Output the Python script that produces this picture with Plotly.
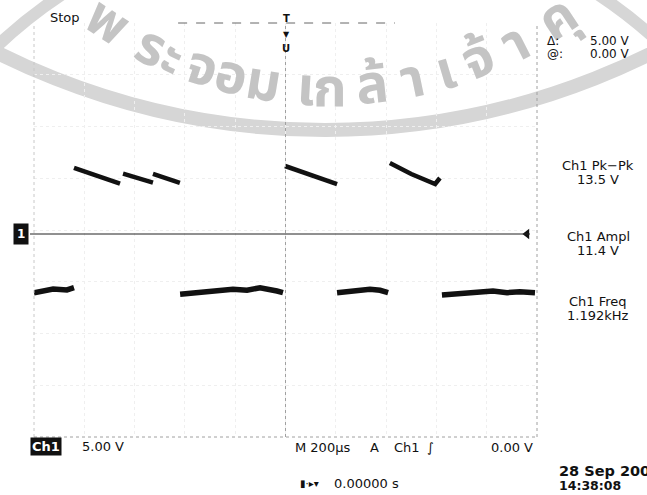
import plotly.graph_objects as go
import math

# ---- waveform data (time in microseconds, voltage in volts) ----
high1_t = [-841, -750, -658]
high1_v = [6.40, 5.60, 4.86]
high2_t = [-646, -585, -527]
high2_v = [5.83, 5.40, 4.96]
high3_t = [-527, -470, -420]
high3_v = [5.80, 5.30, 4.93]
high4_t = [-2, 100, 205]
high4_v = [6.57, 5.70, 4.83]
high5_t = [415, 500, 595, 603, 614]
high5_v = [6.86, 5.80, 4.83, 5.10, 5.41]

low1_t = [-1000, -924, -869, -841]
low1_v = [-5.67, -5.31, -5.41, -5.19]
low2_t = [-419, -340, -260, -209, -153, -101, -34, -10]
low2_v = [-5.83, -5.67, -5.51, -5.34, -5.44, -5.19, -5.51, -5.67]
low3_t = [205, 268, 336, 376, 408]
low3_v = [-5.67, -5.51, -5.34, -5.44, -5.67]
low4_t = [622, 694, 773, 825, 881, 932, 992]
low4_v = [-5.89, -5.77, -5.67, -5.51, -5.67, -5.57, -5.67]

trigger_level = 0.0
volts_per_div = 5.0
time_per_div = 200.0

# ---- screen geometry (pixels) ----
L, R, T, B = 34, 537, 23, 437
W, H = R - L, B - T
FIG_W, FIG_H = 647, 495
ground_px = 234
center_v = (ground_px - (T + B) / 2) / (H / 8) * volts_per_div


def px(x):
    return (x - L) / W


def py(y):
    return (B - y) / H


def join(ts, vs):
    xs, ys = [], []
    for t, v in zip(ts, vs):
        xs += list(t) + [None]
        ys += list(v) + [None]
    return xs, ys


fig = go.Figure()

hx, hy = join([high1_t, high2_t, high3_t, high4_t, high5_t],
              [high1_v, high2_v, high3_v, high4_v, high5_v])
lx, ly = join([low1_t, low2_t, low3_t, low4_t],
              [low1_v, low2_v, low3_v, low4_v])

fig.add_trace(go.Scatter(x=hx, y=hy, mode="lines",
                         line=dict(color="#111111", width=4.5),
                         connectgaps=False, hoverinfo="skip", showlegend=False))
fig.add_trace(go.Scatter(x=lx, y=ly, mode="lines",
                         line=dict(color="#111111", width=5.5),
                         connectgaps=False, hoverinfo="skip", showlegend=False))
# trigger level arrow on the right
fig.add_trace(go.Scatter(x=[960], y=[trigger_level], mode="markers",
                         marker=dict(symbol="triangle-left", size=9, color="#111111"),
                         hoverinfo="skip", showlegend=False))

shapes = []


def circle(cx, cy, r, color, width):
    return dict(type="circle", xref="paper", yref="paper",
                x0=px(cx - r), x1=px(cx + r), y0=py(cy + r), y1=py(cy - r),
                line=dict(color=color, width=width), layer="below")


# watermark rings
shapes.append(circle(325, -603, 733, "#d6d6d6", 14))
shapes.append(circle(330, 400, 486, "#d6d6d6", 12))

# graticule border / centre lines
dot = dict(color="#a0a0a0", width=1, dash="dot")
shapes.append(dict(type="line", xref="x", yref="paper", x0=0, x1=0, y0=0, y1=1, line=dot))
shapes.append(dict(type="line", xref="paper", yref="paper", x0=1, x1=1, y0=0, y1=1, line=dot))
shapes.append(dict(type="line", xref="paper", yref="paper", x0=0, x1=0, y0=0, y1=1,
                   line=dict(color="#c8c8c8", width=1, dash="dot")))
shapes.append(dict(type="line", xref="paper", yref="paper", x0=0, x1=1, y0=0, y1=0, line=dot))
shapes.append(dict(type="line", xref="x", yref="paper", x0=-427, x1=435, y0=1, y1=1,
                   line=dict(color="#666666", width=1, dash="dash")))
# ground / trigger level line
shapes.append(dict(type="line", xref="paper", yref="y", x0=px(30), x1=px(530),
                   y0=trigger_level, y1=trigger_level,
                   line=dict(color="#222222", width=1)))

FONT = "DejaVu Sans"
ann = []


def text(s, x, y, size=13, xanchor="left", color="#111111", bold=False, **kw):
    if bold:
        s = "<b>" + s + "</b>"
    d = dict(text=s, x=px(x), y=py(y), xref="paper", yref="paper",
             xanchor=xanchor, yanchor="middle", showarrow=False,
             font=dict(family=FONT, size=size, color=color))
    d.update(kw)
    ann.append(d)


# watermark Thai text along an arc
wm_chars = ["พ", "ระ", "จ", "อ", "ม", "เ", "ก", "ล้", "า", "เ", "จ้", "า", "คุ"]
wm_angles = [-33, -24.5, -18.2, -14, -9.3, -3.4, 0, 5.9, 11.7, 16.4, 21.3, 27, 33.8]
wcx, wcy, wr = 330, -321, 410
for ch, a in zip(wm_chars, wm_angles):
    ar = math.radians(a)
    x = wcx + wr * math.sin(ar)
    y = wcy + wr * math.cos(ar)
    ann.append(dict(text="<b>" + ch + "</b>", x=px(x), y=py(y), xref="paper", yref="paper",
                    xanchor="center", yanchor="middle", showarrow=False,
                    textangle=-a,
                    font=dict(family="Noto Sans Thai, sans-serif", size=54, color="#c4c4c4")))

text("Stop", 48, 18, size=13)
# trigger position markers
text("T", 286, 19, size=10, xanchor="center", bold=True)
text("▼", 286, 34, size=8, xanchor="center")
text("U", 286, 48, size=10, xanchor="center", bold=True)

text("Δ:", 545, 41, size=12)
text("5.00 V", 632, 41, size=12, xanchor="right")
text("@:", 545, 54, size=12)
text("0.00 V", 632, 54, size=12, xanchor="right")

text("Ch1 Pk−Pk", 598, 165, size=13, xanchor="center")
text("13.5 V", 598, 179, size=13, xanchor="center")
text("Ch1 Ampl", 598, 236, size=13, xanchor="center")
text("11.4 V", 598, 250, size=13, xanchor="center")
text("Ch1 Freq", 598, 301, size=13, xanchor="center")
text("1.192kHz", 598, 315, size=13, xanchor="center")

# channel 1 ground marker
text("1", 21, ground_px, size=12, xanchor="center", color="white", bold=True,
     bgcolor="#111111", borderpad=3)

text("Ch1", 46, 446, size=13, xanchor="center", color="white", bold=True,
     bgcolor="#111111", borderpad=1)
text("5.00 V", 80, 446, size=13)
text("M 200µs", 293, 448, size=13)
text("A", 374, 448, size=13, xanchor="center")
text("Ch1", 392, 448, size=13)
text("∫", 430, 448, size=13, xanchor="center")
text("0.00 V", 535, 448, size=13, xanchor="right")
text("▮·▸▾", 298, 483, size=10)
text("0.00000 s", 332, 483, size=13)
text("28 Sep 2009", 557, 471, size=14.5, bold=True)
text("14:38:08", 557, 485, size=12.5, bold=True)

fig.update_layout(
    width=FIG_W, height=FIG_H,
    margin=dict(l=L, r=FIG_W - R, t=T, b=FIG_H - B),
    paper_bgcolor="white", plot_bgcolor="rgba(0,0,0,0)",
    xaxis=dict(range=[-5 * time_per_div, 5 * time_per_div], tick0=0, dtick=time_per_div,
               showgrid=True, gridcolor="#efefef", griddash="dot", gridwidth=1,
               zeroline=False, showticklabels=False, ticks="", fixedrange=True),
    yaxis=dict(range=[center_v - 4 * volts_per_div, center_v + 4 * volts_per_div],
               tick0=center_v, dtick=volts_per_div,
               showgrid=True, gridcolor="#efefef", griddash="dot", gridwidth=1,
               zeroline=False, showticklabels=False, ticks="", fixedrange=True),
    shapes=shapes, annotations=ann, showlegend=False,
)

fig.write_html("out.html", config={"displayModeBar": False},
               post_script="document.body.style.margin='0px';")
